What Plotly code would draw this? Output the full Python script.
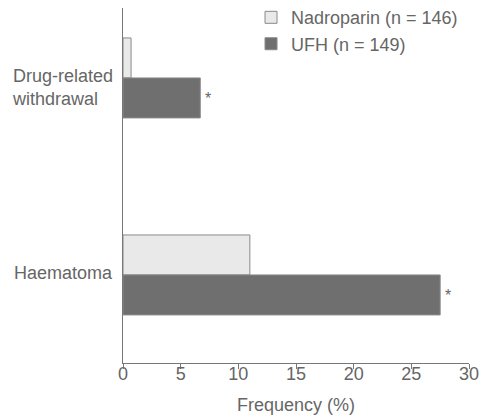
import plotly.graph_objects as go

categories = ["Drug-related<br>withdrawal", "Haematoma"]
nadroparin = [0.7, 11.0]
ufh = [6.7, 27.5]
series_names = ["Nadroparin (n = 146)", "UFH (n = 149)"]
significant = ["*", "*"]
x_ticks = [0, 5, 10, 15, 20, 25, 30]

TXT = "#666666"
FONT = "Liberation Sans, Arial, sans-serif"

fig = go.Figure()
fig.add_trace(go.Bar(y=categories, x=nadroparin, orientation="h", name=series_names[0],
                     marker=dict(color="#e9e9e9", line=dict(color="#8a8a8a", width=1))))
fig.add_trace(go.Bar(y=categories, x=ufh, orientation="h", name=series_names[1],
                     marker=dict(color="#6f6f6f", line=dict(color="#8a8a8a", width=1))))

annotations = []
for cat, v, s in zip(categories, ufh, significant):
    annotations.append(dict(x=v, y=cat, xref="x", yref="y", text=s, showarrow=False,
                            xanchor="left", xshift=3, yshift=-21,
                            font=dict(size=16, color=TXT, family=FONT)))
label_shift = [-10, 2]
for cat, ys in zip(categories, label_shift):
    annotations.append(dict(x=0, y=cat, xref="paper", yref="y", text=cat, showarrow=False,
                            xanchor="right", xshift=-8, yshift=ys, align="left",
                            font=dict(size=18, color=TXT, family=FONT)))

# the page body has an 8px margin, so the figure is 8px smaller and its
# left/top margins are 8px smaller
fig.update_layout(
    width=482, height=408,
    margin=dict(l=115, r=21, t=0, b=53, autoexpand=False),
    paper_bgcolor="white", plot_bgcolor="white",
    barmode="group", bargap=0.594, bargroupgap=0,
    font=dict(family=FONT, size=18, color=TXT),
    showlegend=True,
    legend=dict(x=0.37, y=1.025, xanchor="left", yanchor="top",
                bgcolor="rgba(0,0,0,0)", font=dict(size=18, color=TXT, family=FONT)),
    annotations=annotations,
    xaxis=dict(range=[0, 30], tickvals=x_ticks, ticks="outside", ticklen=5,
               tickcolor="#777777", showline=True, linecolor="#777777", linewidth=1,
               showgrid=False, zeroline=False, automargin=False, ticklabelstandoff=-11,
               title=dict(text="Frequency (%)", standoff=15, font=dict(size=18, color=TXT)),
               tickfont=dict(size=18, color=TXT)),
    yaxis=dict(type="category", categoryarray=categories, range=[1.447, -0.355],
               showticklabels=False, ticks="", showline=True, linecolor="#777777",
               linewidth=1, showgrid=False, zeroline=False, automargin=False),
)

fig.write_html("out.html")
